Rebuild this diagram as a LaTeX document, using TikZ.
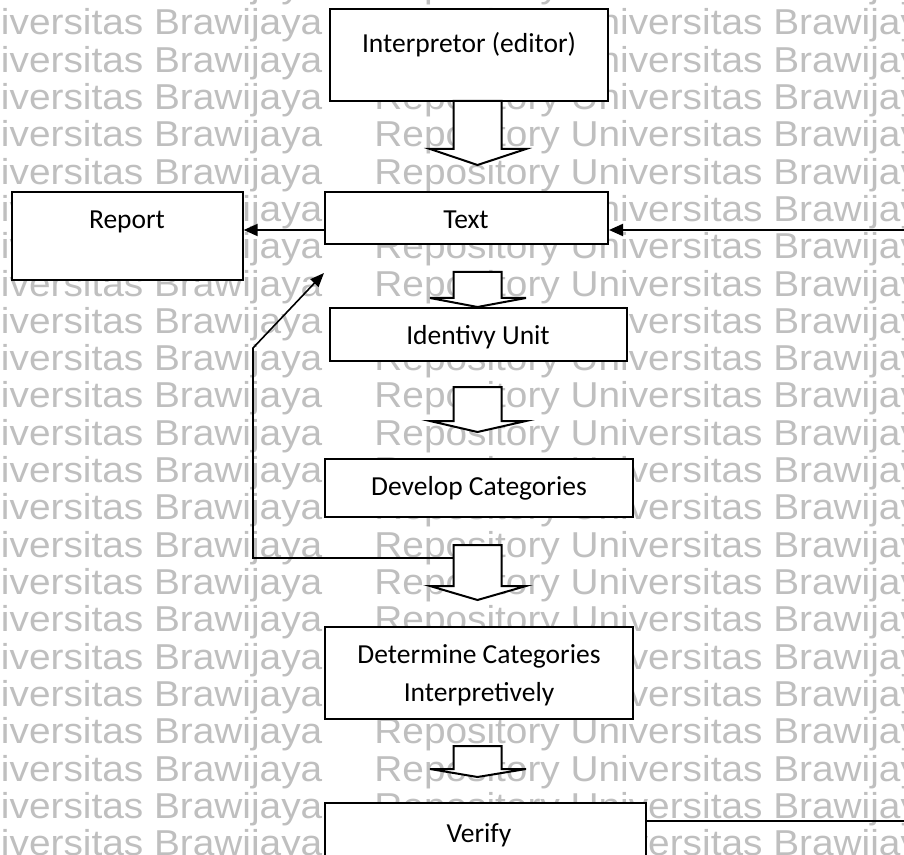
\documentclass[tikz,border=0pt]{standalone}
\usepackage{fontspec}
\setmainfont{Carlito}
\newfontfamily\wmfont{Liberation Sans}
\usetikzlibrary{arrows.meta,fit,calc}

% slightly widened background lettering
\newcommand\wmtext[1]{\scalebox{1.078}[1]{#1}}
% downward block arrow: top of shaft, shoulder, tip
\newcommand\downblock[3]{%
  \filldraw[barrow] (453.5,#1) -- (453.5,#2) -- (430,#2) -- (477.5,#3)
    -- (526,#2) -- (501.5,#2) -- (501.5,#1) -- cycle;}

\begin{document}
\begin{tikzpicture}[x=0.5pt,y=-0.5pt,
  box/.style={draw=black,line width=1pt,fill=white,inner sep=0pt,rectangle},
  lbl/.style={font=\fontsize{13.75}{16.5}\selectfont,inner sep=0pt,anchor=base},
  wm/.style={text=black!25,inner sep=0pt,anchor=base west,
             font=\wmfont\fontsize{18}{18}\selectfont},
  barrow/.style={draw=black,line width=1pt,fill=white,line join=miter},
  arr/.style={line width=1pt,-{Triangle[length=7pt,width=6pt]}},
  fbline/.style={line width=0.8pt,-{Triangle[length=7pt,width=5.5pt]}},
  plainline/.style={line width=1pt},
]
\useasboundingbox (0,0) rectangle (904,855);
\clip (0,0) rectangle (904,855);

% background lettering
\foreach \k in {-1,...,22}{
  \node[wm] (wml\k) at (-49,{35+37.3*\k}) {\wmtext{Universitas Brawijaya}};
  \node[wm] (wmr\k) at (374,{35+37.3*\k}) {\wmtext{Repository Universitas Brawijaya}};
}

% boxes
\node[box,fit={(330,9)(608,101)}] (interp) {};
\node[box,fit={(11.5,192)(242.7,280)}] (report) {};
\node[box,fit={(325,192)(608,244)}] (textbox) {};
\node[box,fit={(330,308)(627,361)}] (ident) {};
\node[box,fit={(325,459)(633,517)}] (develop) {};
\node[box,fit={(325,627)(633,719)}] (determine) {};
\node[box,fit={(325,803)(645.7,880)}] (verify) {};

% labels
\node[lbl] (interp-t) at (469,53) {Interpretor (editor)};
\node[lbl] (report-t) at (127,228.5) {Report};
\node[lbl] (textbox-t) at (466,229) {Text};
\node[lbl] (ident-t) at (478,345) {Identivy Unit};
\node[lbl] (develop-t) at (479,495) {Develop Categories};
\node[lbl] (determine-t1) at (479,663) {Determine Categories};
\node[lbl] (determine-t2) at (479,701.7) {Interpretively};
\node[lbl] (verify-t) at (479,842) {Verify};

% block arrows between the steps
\downblock{101}{149}{165}
\downblock{272}{298}{307}
\downblock{387}{421}{432}
\downblock{545}{586}{600}
\downblock{746}{769}{777}

% connectors
\draw[arr] ([yshift=-6pt]textbox.west) -- ([yshift=-6pt]textbox.west -| report.east);
\coordinate (rin) at (904,230);
\draw[arr] (rin) -- (rin -| textbox.east);
\coordinate (vout) at (904,821);
\draw[plainline] (vout -| verify.east) -- (vout);

% feedback from the categories back to the text
\coordinate (fbjoin) at (453.5,558);
\coordinate (fbknee) at (253,558);
\coordinate (fbbend) at (253,348);
\coordinate (fbtip) at (324,273);
\draw[fbline] (fbjoin) -- (fbknee) -- (fbbend) -- (fbtip);
\end{tikzpicture}
\end{document}
